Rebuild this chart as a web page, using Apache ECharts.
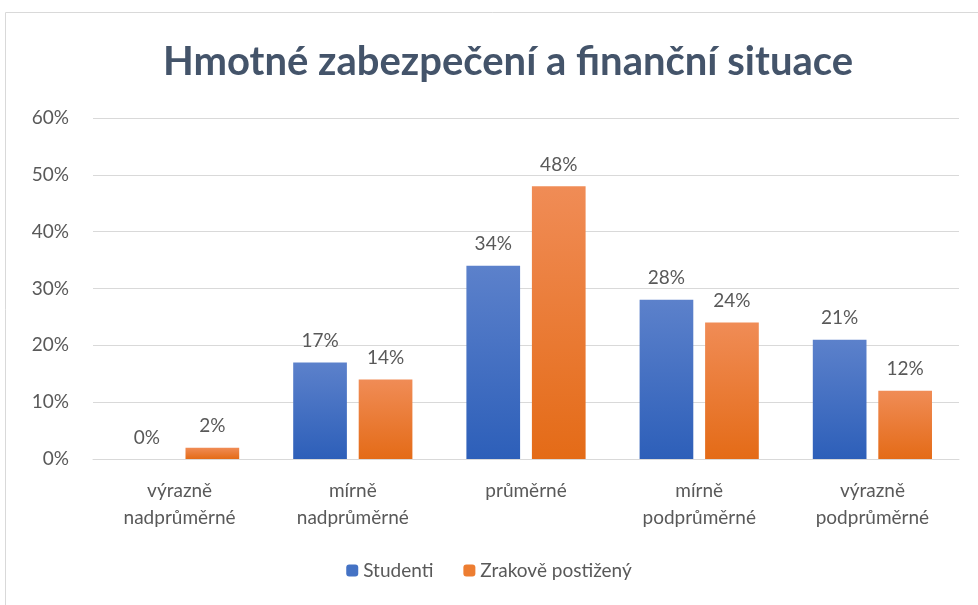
<!DOCTYPE html>
<html>
<head>
<meta charset="utf-8">
<script src="https://cdn.jsdelivr.net/npm/echarts@6/dist/echarts.min.js"></script>
<style>
  html, body { margin: 0; padding: 0; background: #fff; }
  #chart { width: 978px; height: 605px; }
</style>
</head>
<body>
<div id="chart"></div>
<script>
var categories = ['výrazně\nnadprůměrné', 'mírně\nnadprůměrné', 'průměrné', 'mírně\npodprůměrné', 'výrazně\npodprůměrné'];
var studenti = [0, 17, 34, 28, 21];
var zrakove = [2, 14, 48, 24, 12];
var yTicks = [0, 10, 20, 30, 40, 50, 60];

var myChart = echarts.init(document.getElementById('chart'));

function grad(top, bottom) {
  return new echarts.graphic.LinearGradient(0, 0, 0, 1, [
    { offset: 0, color: top },
    { offset: 1, color: bottom }
  ]);
}

var textColor = '#595959';
var font = 'Lato, "Open Sans", sans-serif';

var option = {
  animation: false,
  textStyle: { fontFamily: font },
  graphic: [{
    type: 'rect',
    shape: { x: 5.5, y: 12.5, width: 1000, height: 620 },
    style: { fill: 'none', stroke: '#d9d9d9', lineWidth: 1 },
    silent: true
  }],
  title: {
    text: 'Hmotné zabezpečení a finanční situace',
    left: 158,
    top: 37,
    textStyle: { fontFamily: font, fontSize: 40, fontWeight: 'bold', color: '#44546a' }
  },
  legend: {
    bottom: 20,
    left: 'center',
    itemWidth: 12,
    itemHeight: 12,
    itemGap: 30,
    textStyle: { fontFamily: font, fontSize: 19, color: textColor },
    data: [
      { name: 'Studenti', itemStyle: { color: '#4472c4' } },
      { name: 'Zrakově postižený', itemStyle: { color: '#ed7d31' } }
    ]
  },
  grid: { left: 93, right: 19, top: 118, bottom: 146 },
  xAxis: {
    type: 'category',
    data: categories,
    axisLine: { lineStyle: { color: '#d9d9d9', width: 1 } },
    axisTick: { show: false },
    axisLabel: { fontFamily: font, fontSize: 19, color: textColor, margin: 18, lineHeight: 27 }
  },
  yAxis: {
    type: 'value',
    min: yTicks[0],
    max: yTicks[yTicks.length - 1],
    interval: 10,
    axisLine: { show: false },
    axisTick: { show: false },
    splitLine: { lineStyle: { color: '#d9d9d9', width: 1 } },
    axisLabel: { fontFamily: font, fontSize: 19, color: textColor, margin: 24, formatter: '{value}%' }
  },
  series: [
    {
      name: 'Studenti',
      type: 'bar',
      data: studenti,
      barWidth: '31%',
      barGap: '22%',
      itemStyle: { color: grad('#5c81cb', '#2d5fb9') },
      label: { show: true, position: 'top', distance: 12, formatter: '{c}%', fontFamily: font, fontSize: 19, color: textColor }
    },
    {
      name: 'Zrakově postižený',
      type: 'bar',
      data: zrakove,
      barWidth: '31%',
      itemStyle: { color: grad('#f08c56', '#e46b17') },
      label: { show: true, position: 'top', distance: 12, formatter: '{c}%', fontFamily: font, fontSize: 19, color: textColor }
    }
  ]
};
option && myChart.setOption(option);
</script>
</body>
</html>
